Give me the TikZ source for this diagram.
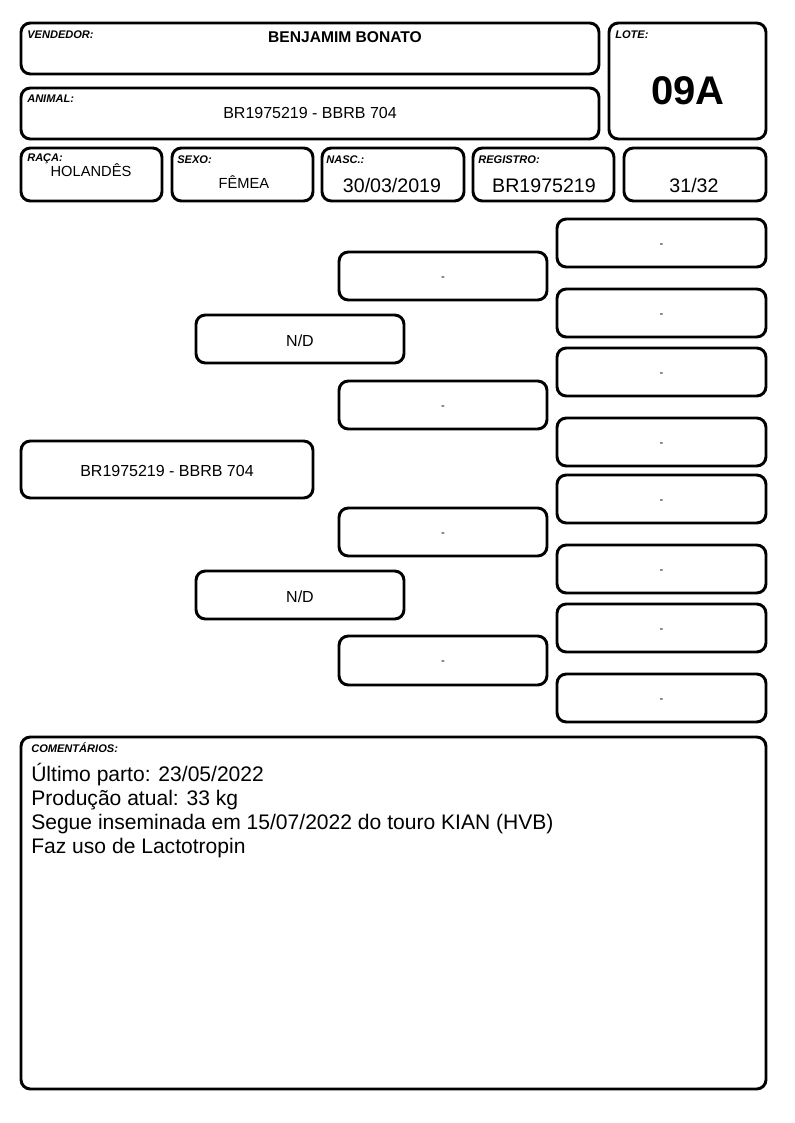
\documentclass[tikz,border=0pt]{standalone}
\usepackage{fontspec}
\setmainfont{Liberation Sans}
\usetikzlibrary{fit}

\tikzset{
  card/.style={draw, line width=2.2pt, rounded corners=7pt, inner sep=0pt},
  tag/.style={anchor=base west, inner sep=0pt, font=\fontsize{8.3}{9}\selectfont\bfseries\itshape},
  value/.style={anchor=base, inner sep=0pt},
  nilval/.style={font=\fontsize{8.5}{9}\selectfont, yshift=-2pt},
  pedval/.style={font=\fontsize{12}{14}\selectfont, yshift=-1pt},
  note/.style={anchor=base west, inner sep=0pt, font=\fontsize{15.8}{18}\selectfont}
}

\begin{document}
\begin{tikzpicture}[x=0.75pt, y=-0.75pt]
\useasboundingbox (0,0) rectangle (794,1123);
% Header
\node[card, fit={(21,23) (599,74)}] (vendedor) {};
\node[tag] (vendedortag) at (27,39) {VENDEDOR:};
\node[value, font=\fontsize{11.7}{14}\selectfont\bfseries] (vendedorval) at (345,42.5) {BENJAMIM BONATO};
\node[card, fit={(21,88) (599,139)}] (animal) {};
\node[tag] (animaltag) at (27,103) {ANIMAL:};
\node[value, font=\fontsize{12}{14}\selectfont] (animalval) at (310,118.5) {BR1975219 - BBRB 704};
\node[card, fit={(609,23) (766,139)}] (lote) {};
\node[tag] (lotetag) at (615,39) {LOTE:};
\node[value, font=\fontsize{30}{34}\selectfont\bfseries] (loteval) at (688,105) {09A};
% Data row
\node[card, fit={(21,148) (162,201)}] (raca) {};
\node[tag] (racatag) at (27,162) {RAÇA:};
\node[value, font=\fontsize{11}{13}\selectfont] (racaval) at (91,177) {HOLANDÊS};
\node[card, fit={(172,148) (313,201)}] (sexo) {};
\node[tag] (sexotag) at (177,164) {SEXO:};
\node[value, font=\fontsize{11}{13}\selectfont] (sexoval) at (244,189) {FÊMEA};
\node[card, fit={(322,148) (464,201)}] (nasc) {};
\node[tag] (nasctag) at (326,164) {NASC.:};
\node[value, font=\fontsize{14.7}{17}\selectfont] (nascval) at (392,193) {30/03/2019};
\node[card, fit={(473,148) (614,201)}] (registro) {};
\node[tag] (registrotag) at (478,164) {REGISTRO:};
\node[value, font=\fontsize{14.7}{17}\selectfont] (registroval) at (544,193) {BR1975219};
\node[card, fit={(624,148) (766,201)}] (grau) {};
\node[value, font=\fontsize{14.7}{17}\selectfont] (grauval) at (694,193) {31/32};
% Pedigree
\node[card, fit={(21,441) (313,498)}] (self) {};
\node[pedval] (selfval) at (self.center) {BR1975219 - BBRB 704};
\node[card, fit={(196,315) (404,363)}] (sire) {};
\node[pedval] (sireval) at (sire.center) {N/D};
\node[card, fit={(196,571) (404,619)}] (dam) {};
\node[pedval] (damval) at (dam.center) {N/D};
\foreach \ytop/\ybot [count=\i] in {252/300, 381/429, 508/556, 636/685} {
  \node[card, fit={(339,\ytop) (547,\ybot)}] (grand\i) {};
  \node[nilval] (grandval\i) at (grand\i.center) {-};
}
\foreach \ytop/\ybot [count=\i] in {219/267, 289/337, 348/396, 418/466, 475/523, 545/593, 604/652, 674/722} {
  \node[card, fit={(557,\ytop) (766,\ybot)}] (great\i) {};
  \node[nilval] (greatval\i) at (great\i.center) {-};
}
% Comments
\node[card, fit={(21,737) (766,1089)}] (comentarios) {};
\node[tag] (comentariostag) at (31,752) {COMENTÁRIOS:};
\node[note] (nota1) at (31,781) {Último parto: 23/05/2022};
\node[note] (nota2) at (31,805) {Produção atual: 33 kg};
\node[note] (nota3) at (31,829) {Segue inseminada em 15/07/2022 do touro KIAN (HVB)};
\node[note] (nota4) at (31,853) {Faz uso de Lactotropin};
\end{tikzpicture}
\end{document}
